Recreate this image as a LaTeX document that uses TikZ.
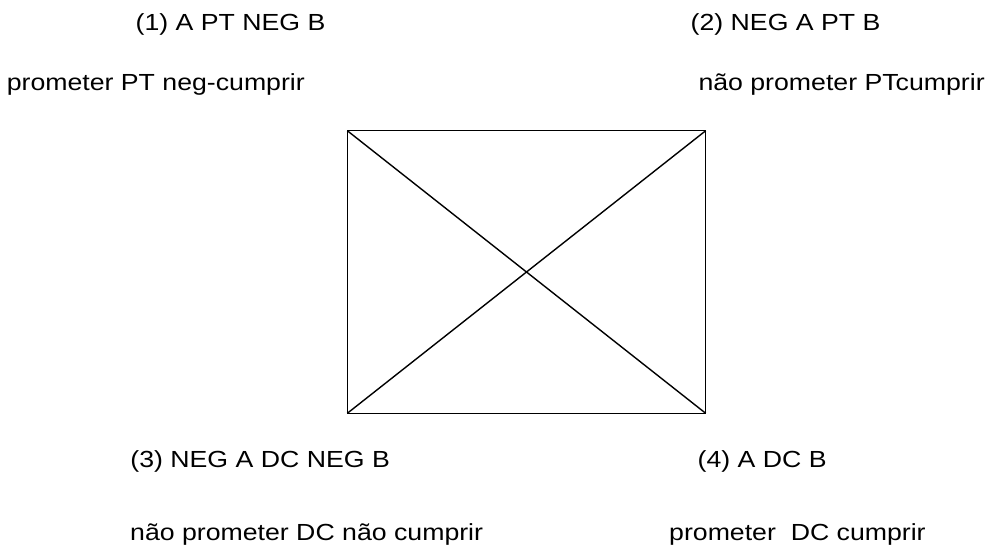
\documentclass[tikz,border=0pt]{standalone}
\usepackage{fontspec}
\setmainfont{Liberation Sans}[FakeStretch=1.145]
\begin{document}
\begin{tikzpicture}[x=1pt,y=-1pt,
  lbl/.style={anchor=base west,inner sep=0pt,font=\fontsize{23.3}{28}\selectfont},
  edge/.style={line width=1.4pt,line join=miter}]
\useasboundingbox (0,0) rectangle (992,547);
\coordinate (tl) at (347.3,130.7);
\coordinate (tr) at (705.7,130.7);
\coordinate (br) at (705.7,413.3);
\coordinate (bl) at (347.3,413.3);
\draw[edge] (tl) -- (tr) -- (br) -- (bl) -- cycle;
\draw[edge] (tl) -- (br);
\draw[edge] (bl) -- (tr);
\node[lbl] (p1) at (135.5,30) {(1) A PT NEG B};
\node[lbl] (p2) at (690.5,30) {(2) NEG A PT B};
\node[lbl] (q1) at (6.6,90.5) {prometer PT neg-cumprir};
\node[lbl] (q2) at (698.3,90.5) {não prometer PTcumprir};
\node[lbl] (p3) at (130.2,467.7) {(3) NEG A DC NEG B};
\node[lbl] (p4) at (697.5,467.7) {(4) A DC B};
\node[lbl] (q3) at (130,540) {não prometer DC não cumprir};
\node[lbl] (q4) at (669,540) {prometer\ \ DC cumprir};
\end{tikzpicture}
\end{document}
